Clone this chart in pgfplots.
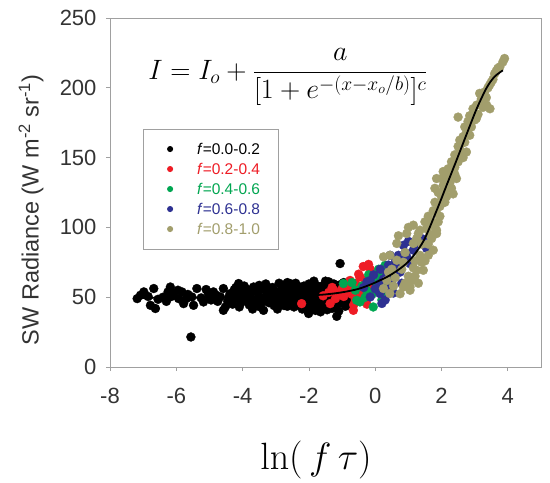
\RequirePackage{fix-cm}
\documentclass[border=0pt]{standalone}
\usepackage{pgfplots}
\pgfplotsset{compat=1.18}
\usepackage[no-math]{fontspec}
\setmainfont{Liberation Sans}
\definecolor{cblack}{HTML}{000000}
\definecolor{cred}{HTML}{EE1C25}
\definecolor{cgreen}{HTML}{00A651}
\definecolor{cblue}{HTML}{2E3192}
\definecolor{colive}{HTML}{A29E6C}
\definecolor{frame}{HTML}{A0A0A0}
\definecolor{txt}{HTML}{333333}
\pgfplotsset{mydot/.style={only marks, mark=*, mark size=4.5pt,
  mark options={draw=#1, fill=#1, line width=0.3pt},
  legend image code/.code={\path[draw=none,fill=none] (0pt,-3pt) rectangle (42pt,3pt);
    \fill[#1] (19pt,0pt) circle (2.6pt);}}}
\begin{document}
\begin{tikzpicture}
\begin{axis}[name=ax, at={(0,0)}, anchor=south west,
  scale only axis, width=431pt, height=349pt,
  clip mode=individual,
  xmin=-8, xmax=5, ymin=0, ymax=250,
  xtick={-8,-6,-4,-2,0,2,4}, xticklabels={-8,-6,-4,-2,0,2,4},
  ytick={0,50,100,150,200,250}, yticklabels={0,50,100,150,200,250},
  tick align=outside, tick pos=left, major tick length=4pt,
  axis line style={frame, line width=0.8pt},
  tick style={frame, line width=0.8pt},
  ticklabel style={font=\fontsize{22}{26}\selectfont, text=txt},
  xticklabel style={yshift=-14pt},
  yticklabel style={xshift=-6pt},
  xlabel={\fontsize{38}{42}\selectfont $\ln(\,f\,\tau)$},
  xlabel style={at={(axis description cs:0.478,-0.267)}, anchor=center},
  ylabel={SW Radiance (W m\textsuperscript{-2} sr\textsuperscript{-1})},
  ylabel style={font=\fontsize{23.5}{27}\selectfont, text=txt, at={(axis description cs:-0.183,0.45)}, anchor=center},
  legend style={at={(axis description cs:0.0759,0.683)}, anchor=north west,
    draw=frame, line width=0.8pt, fill=white, inner xsep=8pt, inner ysep=10pt,
    font=\fontsize{15.5}{18}\selectfont, legend cell align=left,
    nodes={text height=11pt, text depth=1pt, inner ysep=4pt, inner xsep=4pt}},
]
% f = 0.0-0.2
\addplot[mydot=cblack] coordinates {
(-7.18,49) (-7.08,51.4) (-6.98,53.8) (-6.68,56.2) (-6.78,44.2) (-6.63,41.9) (-6.18,57.3) (-6.08,52.6) (-5.93,49) (-5.83,53.8) (-5.78,45.4) (-5.38,56.2) (-5.53,50.2) (-5.48,44.2) (-5.56,21.5) (-5.18,46.6) (-5.03,52.6) (-4.88,53.8) (-4.67,50.2) (-4.58,56.2) (-4.52,43) (-6.4,50) (-6.3,47) (-5.7,49) (-5.25,49.5) (-4.95,48) (-6.55,48.5) (-5.95,55) (-4.75,47) (-6.85,50.5) (-6.25,53.8) (-5.1,55.5) (-4.58,40.6)
(-4.37,52.6) (-4.22,50.2) (-4.12,59.8) (-4.07,53.8) (-3.92,47.8) (-3.77,52.6) (-3.67,57.3) (-3.52,50.2) (-3.47,43) (-3.32,55) (-3.17,49) (-3.02,53.8) (-2.87,46.6) (-2.77,52.6) (-2.62,57.3) (-4.45,47) (-4.3,45) (-4.15,49) (-4.0,51) (-3.85,55.5) (-3.8,44.5) (-3.6,48) (-3.55,53.5) (-3.4,46.5) (-3.37,40.6) (-3.25,52) (-3.1,57) (-3.05,44) (-2.95,50) (-2.85,55) (-2.7,48.5) (-2.77,58.6) (-2.57,59.8) (-2.65,43.5) (-2.55,51) (-3.5,58.5) (-3.9,50.5) (-4.25,55.5) (-3.2,46) (-2.9,60)
(-2.5,47) (-2.45,54) (-2.4,50) (-2.35,44.5) (-2.3,57.5) (-2.25,52) (-2.2,48) (-2.15,55.5) (-2.1,42.5) (-2.05,50.5) (-2.01,38.3) (-2.0,59.5) (-1.95,46) (-1.9,53) (-1.85,49) (-1.8,56.5) (-1.75,43.5) (-1.7,51.5) (-1.65,47.5) (-1.6,58) (-1.55,54) (-1.5,45) (-1.45,50) (-1.4,61) (-1.35,53) (-1.3,42) (-1.25,48.5) (-1.2,56) (-1.16,36.3) (-1.15,51.5) (-1.1,45.5) (-1.06,74.1) (-1.05,59) (-1.0,49) (-0.95,54.5) (-0.9,43.5) (-0.85,52) (-0.8,58.5) (-0.75,47) (-0.7,55) (-0.65,50) (-2.4,60) (-2.2,41.5) (-2.1,46) (-1.95,56.5) (-1.85,61.5) (-1.8,40.5) (-1.7,45) (-1.6,50.5) (-1.5,55.5) (-1.45,41) (-1.35,47) (-1.25,59.5) (-1.2,52.5) (-1.1,40) (-1.0,56) (-0.9,48) (-2.3,50.5) (-2.0,54) (-1.75,53.5) (-1.55,48) (-1.3,56.5) (-1.05,46) (-0.95,60.5) (-2.45,43) (-2.15,58) (-1.65,39.5) (-1.4,44) (-0.85,56)
(-4.4,51) (-4.2,57) (-4.05,46) (-3.95,58) (-3.75,49) (-3.7,41.5) (-3.45,55.5) (-3.35,49.5) (-3.15,53) (-3.0,47) (-2.8,51) (-2.75,44) (-2.6,54.5) (-2.5,57) (-2.35,52) (-2.25,47.5) (-2.15,51) (-2.05,45) (-1.95,51) (-1.9,43) (-1.75,58) (-1.65,55) (-1.55,44) (-1.45,58.5) (-1.35,50) (-1.25,44.5) (-1.15,57) (-1.05,53) (-0.95,47) (-0.85,44.5) (-3.6,45) (-3.85,52) (-4.35,49) (-2.45,48.5) (-2.65,60.5) (-2.2,54) (-1.5,61.5) (-5.0,50) (-5.65,52) (-6.15,50.5) (-4.8,51.5) (-4.1,43) (-3.3,59.5) (-2.95,41.5)
};
\addlegendentry{\textcolor{cblack}{\textit{f}=0.0-0.2}\hspace*{6pt}}
% f = 0.2-0.4
\addplot[mydot=cred] coordinates {
(-2.22,45.4) (-1.36,45.4) (-1.57,51) (-1.4,53.5) (-1.25,55) (-1.1,52) (-0.95,50.5) (-0.8,54) (-0.76,57) (-1.0,56) (-0.66,40.6) (-0.46,50.2) (-0.46,64.5) (-0.36,72) (-0.2,73.5) (-0.15,70) (-0.76,62) (-0.6,48) (-0.55,58) (-0.4,55) (-0.3,62) (-0.25,45) (-0.65,44.5) (-0.5,66.5) (-0.9,58.5) (-1.2,49) (-0.7,52) (-0.1,58) (0.05,66) (-0.35,48.5) (-0.6,60) (-1.3,57)
};
\addlegendentry{\textcolor{cred}{\textit{f}=0.2-0.4}\hspace*{6pt}}
% f = 0.4-0.6
\addplot[mydot=cgreen] coordinates {
(-0.96,59.8) (-0.56,47.8) (-0.06,43) (0.30,72.9) (0.14,64.5) (-0.26,55) (-0.46,46.6) (-0.7,60.5) (-0.4,58) (-0.1,52) (0.05,57) (0.2,48) (0.35,60) (0.1,70) (-0.2,66) (0.45,66) (-0.3,50) (0.0,62) (0.25,54) (-0.6,55) (0.5,71)
};
\addlegendentry{\textcolor{cgreen}{\textit{f}=0.4-0.6}\hspace*{6pt}}
% f = 0.6-0.8
\addplot[mydot=cblue] coordinates {
(-0.15,62) (0.14,59.8) (0.35,67) (0.65,71.7) (0.85,87.2) (-0.15,50.2) (0.14,52.6) (0.44,57.3) (0.95,78.9) (1.15,83.7) (0.0,56) (0.25,63) (0.5,62) (0.6,75) (0.75,68) (0.3,48) (-0.35,57) (0.9,82) (1.05,74) (0.8,60) (0.55,53) (0.15,70) (-0.05,66) (0.4,73) (1.4,92) (1.25,88) (0.7,80) (1.0,90) (0.45,80) (0.2,45.5) (-0.25,61) (1.65,93) (1.55,85)
};
\addlegendentry{\textcolor{cblue}{\textit{f}=0.6-0.8}\hspace*{6pt}}
% f = 0.8-1.0
\addplot[mydot=colive] coordinates {
(0.25,56.2) (0.44,52.6) (0.44,80) (0.65,76.5) (0.85,57.3) (1.05,55) (1.25,69.3) (1.15,88.5) (1.30,95.6) (1.05,57.3) (1.45,69.3) (1.75,83.7) (1.85,95.6) (0.25,78.9) (0.65,88.5) (0.95,95.6) (0.6,64) (0.8,70) (1.0,65) (1.2,76) (1.35,80) (1.5,76) (1.6,88) (0.9,82) (0.55,58) (0.35,62) (1.1,62) (0.75,52.5) (1.3,60) (1.7,92) (1.55,99) (1.4,88) (1.9,104) (0.7,94) (1.0,100)
(0.5,70) (0.9,60) (1.15,71) (1.4,75) (1.6,80) (1.65,95) (1.25,92) (0.85,75) (1.5,104) (1.2,65) (0.4,68) (1.8,100) (1.35,98)
(1.6,108) (1.7,104) (1.75,112) (1.85,110) (1.8,118) (1.95,115) (1.9,125) (2.0,122) (2.05,130) (2.1,126) (2.15,136) (2.2,133) (2.25,140) (2.3,137) (2.35,146) (2.4,143) (2.45,150) (2.5,147) (2.55,156) (2.6,153) (2.55,162.5) (2.75,154) (2.65,165) (2.7,161) (2.8,170) (2.85,166) (2.5,179) (2.8,176) (2.95,180) (3.0,177) (3.06,187.6) (3.36,187.6) (3.46,185) (3.2,192) (3.3,197) (3.4,200) (3.5,204) (3.6,210) (3.7,214) (3.76,215) (3.85,218.5) (3.9,221) (1.15,101.6) (2.0,135) (2.1,118) (2.3,128) (2.4,152) (2.7,172) (3.1,181) (3.15,196) (1.85,98) (2.25,132) (1.8,128) (1.85,135) (2.35,124) (2.45,135)
(1.95,108) (2.05,118) (2.15,122) (2.2,142) (2.3,147) (2.4,138) (2.5,158) (2.6,160) (2.65,150) (2.75,168) (2.9,172) (2.95,185) (3.05,178) (3.15,188) (3.25,195) (3.35,193) (3.45,202) (3.55,206) (3.65,212) (2.05,140) (2.85,180) (3.25,186)
};
\addlegendentry{\textcolor{colive}{\textit{f}=0.8-1.0}\hspace*{6pt}}
% fitted curve
\addplot[black, line width=1.8pt, smooth, forget plot] coordinates {
(-7.2,49.5) (-6,49.6) (-5,49.8) (-4,50.1) (-3,50.6) (-2,51.3) (-1.5,52) (-1,53.5) (-0.5,56) (0,60.5) (0.5,66.5) (1.0,75.5) (1.45,90) (1.85,112) (2.15,130) (2.45,148) (2.76,167) (3.06,185) (3.36,200) (3.6,208) (3.85,212.5)
};
\node[anchor=center] at (axis description cs:0.413,0.832)
  {\fontsize{28}{32}\selectfont $\displaystyle I = I_o + \frac{a}{[1+e^{-(x-x_o/b)}]^c}$};
\end{axis}
\pgfresetboundingbox
\path[use as bounding box] (-110pt,-115.3pt) rectangle (440pt,367pt);
\end{tikzpicture}
\end{document}
